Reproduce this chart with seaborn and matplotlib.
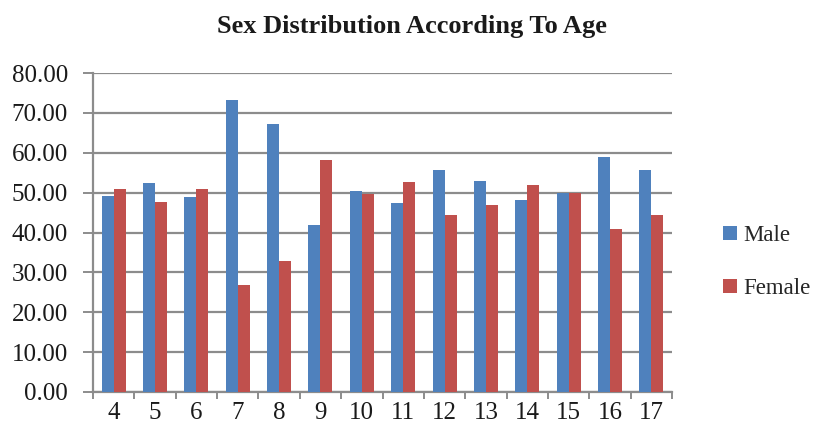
import matplotlib
matplotlib.use("Agg")
import matplotlib.pyplot as plt
import seaborn as sns
import pandas as pd
import numpy as np
from matplotlib.patches import Patch

# Share of each sex (%) by age
ages = [4, 5, 6, 7, 8, 9, 10, 11, 12, 13, 14, 15, 16, 17]
male = [49.2, 52.3, 49.0, 73.2, 67.2, 41.8, 50.4, 47.3, 55.7, 53.0, 48.2, 50.0, 59.0, 55.6]
female = [50.8, 47.7, 51.0, 26.8, 32.8, 58.2, 49.6, 52.7, 44.3, 47.0, 51.8, 50.0, 41.0, 44.4]
series = ["Male", "Female"]
colors = ["#4F81BD", "#C0504D"]
y_ticks = [0, 10, 20, 30, 40, 50, 60, 70, 80]

df = pd.DataFrame({
    "age": [str(a) for a in ages] * 2,
    "value": male + female,
    "sex": ["Male"] * len(ages) + ["Female"] * len(ages),
})

sns.set_theme(style="white")
plt.rcParams["font.family"] = ["Liberation Serif", "DejaVu Serif"]

fig = plt.figure(figsize=(8.14, 4.47), dpi=100)
ax = fig.add_axes([93 / 814, 1 - 392 / 447, (672 - 93) / 814, (392 - 73) / 447])

grid_col = "#8c8c8c"
sns.barplot(data=df, x="age", y="value", hue="sex", hue_order=series,
            palette=colors, width=0.58, gap=0, saturation=1, ax=ax,
            legend=False, linewidth=0, edgecolor="none", zorder=3)

ax.set_xlim(-0.5, len(ages) - 0.5)
ax.set_ylim(0, 80)
ax.set_yticks(y_ticks)
ax.set_yticklabels([f"{v:.2f}" for v in y_ticks], fontsize=18, color="#1a1a1a")
ax.yaxis.grid(True, color=grid_col, linewidth=1.6, zorder=0)
ax.set_axisbelow(True)
ax.tick_params(axis="y", length=7, width=1.4, color=grid_col, pad=11, left=True)

# Category labels centered; tick marks at group boundaries
ax.set_xticks(range(len(ages)))
ax.set_xticklabels([str(a) for a in ages], fontsize=18, color="#1a1a1a")
ax.tick_params(axis="x", which="major", length=0, pad=7)
ax.set_xticks(np.arange(-0.5, len(ages), 1.0), minor=True)
ax.tick_params(axis="x", which="minor", length=5, width=1.4, color=grid_col,
               bottom=True, direction="out")

ax.set_xlabel("")
ax.set_ylabel("")
for side in ["top", "right"]:
    ax.spines[side].set_visible(False)
for side in ["left", "bottom"]:
    ax.spines[side].set_color(grid_col)
    ax.spines[side].set_linewidth(1.6)

fig.text(0.506, 1 - 26 / 447, "Sex Distribution According To Age",
         ha="center", va="center", fontsize=19, fontweight="bold", color="#1a1a1a")

handles = [Patch(facecolor=c, edgecolor="none", label=s) for s, c in zip(series, colors)]
fig.legend(handles=handles, loc="center left", bbox_to_anchor=(714 / 814, 1 - 262 / 447),
           frameon=False, fontsize=16.5, handlelength=0.6, handleheight=0.6,
           handletextpad=0.3, labelspacing=1.4, borderaxespad=0)

fig.savefig("out.png", dpi=100, facecolor="white")
